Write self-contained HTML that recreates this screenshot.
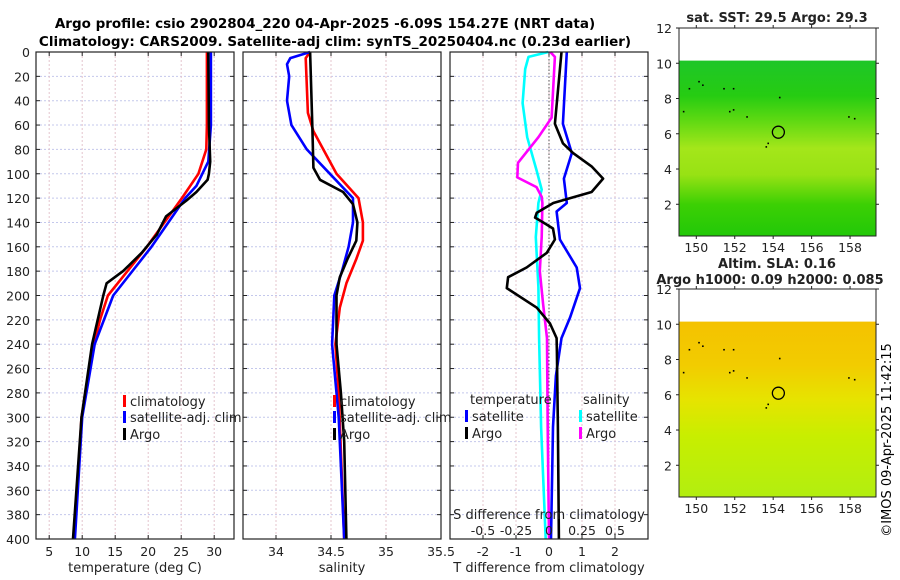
<!DOCTYPE html>
<html><head><meta charset="utf-8"><style>
html,body{margin:0;padding:0;background:#fff}
svg{display:block;font-family:"DejaVu Sans","Liberation Sans",sans-serif}
</style></head><body>
<svg id="chart" width="900" height="580" viewBox="0 0 900 580" xmlns="http://www.w3.org/2000/svg">
<defs>
<linearGradient id="sstGrad" x1="0" y1="0" x2="0" y2="1">
<stop offset="0" stop-color="#1ec628"/><stop offset="0.2" stop-color="#26cc12"/><stop offset="0.33" stop-color="#5ad812"/><stop offset="0.5" stop-color="#a4e61a"/><stop offset="0.65" stop-color="#98e214"/><stop offset="0.82" stop-color="#3cd004"/><stop offset="1" stop-color="#22c808"/>
</linearGradient>
<linearGradient id="slaGrad" x1="0" y1="0" x2="0" y2="1">
<stop offset="0" stop-color="#f4c200"/><stop offset="0.25" stop-color="#f2cc00"/><stop offset="0.45" stop-color="#e6e400"/><stop offset="0.65" stop-color="#c8ee00"/><stop offset="1" stop-color="#b2ee10"/>
</linearGradient>
</defs>
<g id="title" font-weight="bold" font-size="13.5" text-anchor="middle">
<text x="325" y="28">Argo profile: csio 2902804_220 04-Apr-2025 -6.09S 154.27E (NRT data)</text>
<text x="335" y="46">Climatology: CARS2009. Satellite-adj clim: synTS_20250404.nc (0.23d earlier)</text>
</g>
<g id="plots"></g>
<text x="895" y="440" font-size="13" text-anchor="middle" transform="rotate(-90 895 440)" dy="-4">©IMOS 09-Apr-2025 11:42:15</text>
</svg>
<script>
// ---- data (depth in m) ----
const tArgoDepth = [0,60,90,100,105,115,122,135,150,165,180,190,200,240,300,400];
const tArgo      = [29.1,29.2,29.4,29.2,29.0,27.3,25.8,22.7,21.3,19.0,16.2,13.7,13.2,11.5,9.9,8.6];
const tClimDepth = [0,60,80,100,120,160,200,220,240,300,400];
const tClim      = [28.9,28.9,28.8,27.6,25.1,19.8,13.9,12.7,11.8,9.9,8.8];
const tSatDepth  = [0,60,90,110,120,160,200,240,300,400];
const tSat       = [29.5,29.5,29.1,27.3,25.6,20.5,14.7,11.9,10.0,8.9];

const sArgoDepth = [0,60,95,105,115,125,140,155,170,185,200,240,280,320,400];
const sArgo      = [34.31,34.33,34.34,34.40,34.61,34.70,34.74,34.73,34.65,34.58,34.55,34.55,34.59,34.62,34.64];
const sClimDepth = [0,5,50,65,100,120,140,155,170,190,210,240,280,400];
const sClim      = [34.31,34.27,34.29,34.34,34.55,34.75,34.79,34.79,34.73,34.64,34.58,34.54,34.57,34.62];
const sSatDepth  = [0,5,10,20,40,60,80,100,120,140,160,180,200,240,300,400];
const sSat       = [34.31,34.13,34.10,34.12,34.10,34.14,34.28,34.49,34.70,34.70,34.66,34.60,34.53,34.51,34.57,34.62];

const dTArgoDepth = [0,59,75,83,94,104,115,124,132,136,140,145,154,165,177,185,194,210,223,235,246,308,400];
const dTArgo      = [0.38,0.18,0.42,0.73,1.29,1.64,1.29,0.13,-0.37,-0.42,-0.18,0.12,0.18,-0.07,-0.68,-1.24,-1.28,-0.37,0.03,0.23,0.24,0.27,0.30];
const dTSatDepth  = [0,59,83,104,124,131,154,177,194,218,235,266,308,400];
const dTSat       = [0.54,0.42,0.69,0.45,0.54,0.23,0.33,0.84,0.94,0.64,0.38,0.21,0.12,0.06];
const dSSatDepth  = [0,4,14,42,70,97,113,124,152,193,235,308,400];
const dSSat       = [-0.005,-0.155,-0.18,-0.2,-0.165,-0.095,-0.055,-0.08,-0.1,-0.08,-0.075,-0.06,-0.025];
const dSArgoDepth = [0,4,54,70,91,103,111,119,124,152,180,207,235,308,400];
const dSArgo      = [0.01,0.045,0.02,-0.08,-0.235,-0.24,-0.095,-0.055,-0.05,-0.055,-0.07,-0.045,-0.015,-0.01,0.0];

const depthTicks = [0,20,40,60,80,100,120,140,160,180,200,220,240,260,280,300,320,340,360,380,400];
const tTicks = [5,10,15,20,25,30];
const sTicks = [34,34.5,35,35.5];
const dTTicks = [-2,-1,0,1,2];
const dSTicks = [-0.5,-0.25,0,0.25,0.5];
const lonTicks = [150,152,154,156,158];
const latTicks = [2,4,6,8,10,12];
const argoLon = 154.27, argoLat = 6.09;

const NS='http://www.w3.org/2000/svg';
const root=document.getElementById('plots');
function mk(tag,attrs,parent){const e=document.createElementNS(NS,tag);for(const k in attrs)e.setAttribute(k,attrs[k]);(parent||root).appendChild(e);return e;}
function txt(x,y,s,size,anchor,parent){const t=mk('text',{x:x,y:y,'font-size':size,'text-anchor':anchor||'middle',fill:'#222'},parent);t.textContent=s;return t;}

const Y0=52, Y1=539, DMAX=400;
function yD(d){return Y0+(d/DMAX)*(Y1-Y0);}
const panels=[{x0:36,x1:234,min:3,max:33,ticks:tTicks,label:'temperature (deg C)',name:'temperature-panel'},
 {x0:243,x1:441,min:33.7,max:35.5,ticks:sTicks,label:'salinity',name:'salinity-panel'},
 {x0:450,x1:648,min:-3,max:3,ticks:dTTicks,label:'T difference from climatology',name:'difference-panel'}];
function xS(p,v){return p.x0+(v-p.min)/(p.max-p.min)*(p.x1-p.x0);}
function xSdiff(v){return xS(panels[2],v*4);}

panels.forEach((p,i)=>{
  const g=mk('g',{});
  
  
  depthTicks.forEach(d=>{ if(d>0&&d<400) mk('line',{x1:p.x0,x2:p.x1,y1:yD(d),y2:yD(d),stroke:'#c4c8ec','stroke-width':1,'stroke-dasharray':'2,2'},g);});
  p.ticks.forEach(v=>{const x=xS(p,v); if(x>p.x0+1&&x<p.x1-1) mk('line',{x1:x,x2:x,y1:Y0,y2:Y1,stroke:'#e4c4cc','stroke-width':1,'stroke-dasharray':'2,2'},g);});
  depthTicks.forEach(d=>{mk('line',{x1:p.x0,x2:p.x0+4,y1:yD(d),y2:yD(d),stroke:'#222'},g);mk('line',{x1:p.x1,x2:p.x1-4,y1:yD(d),y2:yD(d),stroke:'#222'},g);});
  p.ticks.forEach(v=>{const x=xS(p,v);mk('line',{x1:x,x2:x,y1:Y1,y2:Y1-4,stroke:'#222'},g);mk('line',{x1:x,x2:x,y1:Y0,y2:Y0+4,stroke:'#222'},g);
    const t=txt(x,556,String(v),12.5,'middle',g);});
  const xl=txt((p.x0+p.x1)/2,572,p.label,13,'middle',g);
  
  
  if(i===0){depthTicks.forEach(d=>{const t=txt(30,yD(d)+5,String(d),12.5,'end',g);});}
});
const zl=mk('line',{x1:xS(panels[2],0),x2:xS(panels[2],0),y1:Y0,y2:Y1,stroke:'#555','stroke-width':1,'stroke-dasharray':'1.5,2'});



function line(depths,vals,xf,color,name){
  const pts=depths.map((d,i)=>xf(vals[i]).toFixed(1)+','+yD(d).toFixed(1)).join(' ');
  const pl=mk('polyline',{points:pts,fill:'none',stroke:color,'stroke-width':2.6,'stroke-linejoin':'round'});
  
  
}
const P=panels;
line(tClimDepth,tClim,v=>xS(P[0],v),'#ff0000','temp-climatology-line');
line(tSatDepth,tSat,v=>xS(P[0],v),'#0000ff','temp-satellite-line');
line(tArgoDepth,tArgo,v=>xS(P[0],v),'#000','temp-argo-line');
line(sClimDepth,sClim,v=>xS(P[1],v),'#ff0000','sal-climatology-line');
line(sSatDepth,sSat,v=>xS(P[1],v),'#0000ff','sal-satellite-line');
line(sArgoDepth,sArgo,v=>xS(P[1],v),'#000','sal-argo-line');
line(dSSatDepth,dSSat,xSdiff,'#00ffff','sal-diff-satellite-line');
line(dSArgoDepth,dSArgo,xSdiff,'#ff00ff','sal-diff-argo-line');
line(dTSatDepth,dTSat,v=>xS(P[2],v),'#0000ff','temp-diff-satellite-line');
line(dTArgoDepth,dTArgo,v=>xS(P[2],v),'#000','temp-diff-argo-line');

panels.forEach(p=>{const r=mk('rect',{x:p.x0,y:Y0,width:p.x1-p.x0,height:Y1-Y0,fill:'none',stroke:'#222','stroke-width':1.2});
  
  });

function legend(x,y,color,label){const g=mk('g',{});
  
  
  mk('rect',{x:x,y:y-11,width:3,height:12,fill:color},g);txt(x+7,y,label,13,'start',g);}
[[P[0].x0+87],[P[1].x0+90]].forEach(([lx])=>{legend(lx,406,'#ff0000','climatology');legend(lx,422,'#0000ff','satellite-adj. clim');legend(lx,439,'#000','Argo');});
const lh1=txt(470,404,'temperature',13,'start');
const lh2=txt(583,404,'salinity',13,'start');
legend(465,421,'#0000ff','satellite');legend(465,438,'#000','Argo');
legend(579,421,'#00ffff','satellite');legend(579,438,'#ff00ff','Argo');
const st=txt(549,519,'S difference from climatology',13,'middle');
dSTicks.forEach(v=>{const t=txt(xSdiff(v),535,String(v),12.5,'middle');});

const maps=[{y0:28,y1:236,grad:'sstGrad',t1:'sat. SST: 29.5  Argo: 29.3',t2:null,name:'sst-map'},
            {y0:289,y1:497,grad:'slaGrad',t1:'Altim. SLA: 0.16',t2:'Argo h1000: 0.09 h2000: 0.085',name:'sla-map'}];
const MX0=679,MX1=876,LON0=149.1,LON1=159.35,LAT0=0.2,LAT1=12;
function mx(lon){return MX0+(lon-LON0)/(LON1-LON0)*(MX1-MX0);}
const specks=[[150.1,9.0],[150.3,8.8],[149.6,8.6],[151.4,8.6],[151.9,8.6],[151.7,7.3],[151.9,7.4],[149.3,7.3],[152.6,7.0],[154.3,8.1],[153.7,5.5],[153.6,5.3],[157.9,7.0],[158.2,6.9]];
maps.forEach(m=>{
  const g=mk('g',{});
  
  
  function my(lat){return m.y1-(lat-LAT0)/(LAT1-LAT0)*(m.y1-m.y0);}
  mk('rect',{x:MX0,y:my(10.15),width:MX1-MX0,height:m.y1-my(10.15),fill:'url(#'+m.grad+')'},g);
  specks.forEach(s=>mk('rect',{x:mx(s[0]),y:my(s[1]),width:1.6,height:1.6,fill:'#000'},g));
  const c=mk('circle',{cx:mx(argoLon),cy:my(argoLat),r:6,fill:'none',stroke:'#000','stroke-width':1.3},g);
  
  
  mk('rect',{x:MX0,y:m.y0,width:MX1-MX0,height:m.y1-m.y0,fill:'none',stroke:'#222','stroke-width':1},g);
  latTicks.forEach(l=>{const y=my(l);mk('line',{x1:MX0,x2:MX0-3,y1:y,y2:y,stroke:'#222'},g);mk('line',{x1:MX1,x2:MX1+3,y1:y,y2:y,stroke:'#222'},g);
    const t=txt(MX0-7,y+5,String(l),12.5,'end',g);});
  lonTicks.forEach(l=>{const x=mx(l);mk('line',{x1:x,x2:x,y1:m.y1,y2:m.y1+3,stroke:'#222'},g);mk('line',{x1:x,x2:x,y1:m.y0,y2:m.y0-3,stroke:'#222'},g);
    const t=txt(x,m.y1+16,String(l),12.5,'middle',g);});
  if(m.t2){const a=txt(777,268,m.t1,13,'middle',g);a.setAttribute('font-weight','bold');
    const b=txt(770,284,m.t2,13,'middle',g);b.setAttribute('font-weight','bold');}
  else{const a=txt(777,22,m.t1,13,'middle',g);a.setAttribute('font-weight','bold');}
});
</script>
</body></html>
